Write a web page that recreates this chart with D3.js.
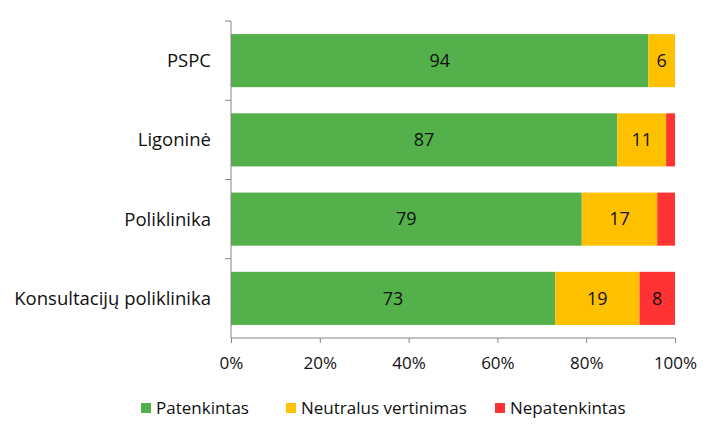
<!DOCTYPE html>
<meta charset="utf-8">
<style>
  body { margin: 0; background: #fff; }
  text { font-family: "Open Sans", sans-serif; fill: #111; }
</style>
<body>
<script src="https://cdn.jsdelivr.net/npm/d3@7"></script>
<script>

    // chart data
    var categories = ["PSPC", "Ligoninė", "Poliklinika", "Konsultacijų poliklinika"];
    var seriesNames = ["Patenkintas", "Neutralus vertinimas", "Nepatenkintas"];
    var patenkintas = [94, 87, 79, 73];
    var neutralus = [6, 11, 17, 19];
    var nepatenkintas = [0, 2, 4, 8];
    var shownLabels = [[94, 6, null], [87, 11, null], [79, 17, null], [73, 19, 8]];
    var tickValues = [0, 20, 40, 60, 80, 100];
    var colors = ["#53b04a", "#ffc000", "#ff3333"];

    var margin = {top: 21, right: 45, bottom: 100, left: 231},
        width = 720 - margin.left - margin.right,
        height = 438 - margin.top - margin.bottom;

    var svg = d3.select("body").append("svg")
        .attr("width", 720)
        .attr("height", 438)
        .append("g")
        .attr("transform", "translate(" + margin.left + "," + margin.top + ")");

    var x = d3.scaleLinear().domain([0, 100]).range([0, width]);
    var y = d3.scaleBand().domain(categories).range([0, height]).paddingInner(0.33).paddingOuter(0.165);

    var rows = categories.map(function (c, i) {
        return {cat: c, v: [patenkintas[i], neutralus[i], nepatenkintas[i]], lab: shownLabels[i]};
    });

    // stacked bars
    rows.forEach(function (r) {
        var x0 = 0;
        r.v.forEach(function (v, j) {
            if (v > 0) {
                svg.append("rect")
                    .attr("x", x(x0))
                    .attr("y", y(r.cat))
                    .attr("width", x(x0 + v) - x(x0))
                    .attr("height", y.bandwidth())
                    .attr("fill", colors[j]);
                if (r.lab[j] != null) {
                    svg.append("text")
                        .attr("x", x(x0 + v / 2))
                        .attr("y", y(r.cat) + y.bandwidth() / 2)
                        .attr("dy", "0.35em")
                        .attr("text-anchor", "middle")
                        .style("font-size", "18px")
                        .text(r.lab[j]);
                }
            }
            x0 += v;
        });
    });

    // y axis line with ticks between categories
    var axisColor = "#868686";
    svg.append("line")
        .attr("x1", 0).attr("x2", 0).attr("y1", 0).attr("y2", height)
        .attr("stroke", axisColor);
    var step = height / categories.length;
    d3.range(categories.length).forEach(function (i) {
        svg.append("line")
            .attr("x1", -6).attr("x2", 0)
            .attr("y1", i * step).attr("y2", i * step)
            .attr("stroke", axisColor);
    });
    svg.selectAll(".cat")
        .data(categories)
        .enter().append("text")
        .attr("x", -20)
        .attr("y", function (d) { return y(d) + y.bandwidth() / 2; })
        .attr("dy", "0.35em")
        .attr("text-anchor", "end")
        .style("font-size", "18.5px")
        .text(function (d) { return d; });

    // x axis
    var xAxis = svg.append("g")
        .attr("transform", "translate(0," + height + ")")
        .call(d3.axisBottom(x).tickValues(tickValues).tickSize(5).tickPadding(14)
            .tickFormat(function (d) { return d + "%"; }));
    xAxis.select(".domain").attr("stroke", axisColor).attr("d", "M0,0H" + width);
    xAxis.selectAll(".tick line").attr("stroke", axisColor);
    xAxis.selectAll(".tick text").style("font-size", "17px").style("font-family", "'Open Sans', sans-serif").attr("fill", "#111");

    // legend
    var legendX = [141, 286, 495];
    var legend = d3.select("svg").append("g");
    seriesNames.forEach(function (s, i) {
        legend.append("rect")
            .attr("x", legendX[i]).attr("y", 403)
            .attr("width", 10).attr("height", 10)
            .attr("fill", colors[i]);
        legend.append("text")
            .attr("x", legendX[i] + 15).attr("y", 408)
            .attr("dy", "0.35em")
            .style("font-size", "17px")
            .text(s);
    });

</script>
</body>
